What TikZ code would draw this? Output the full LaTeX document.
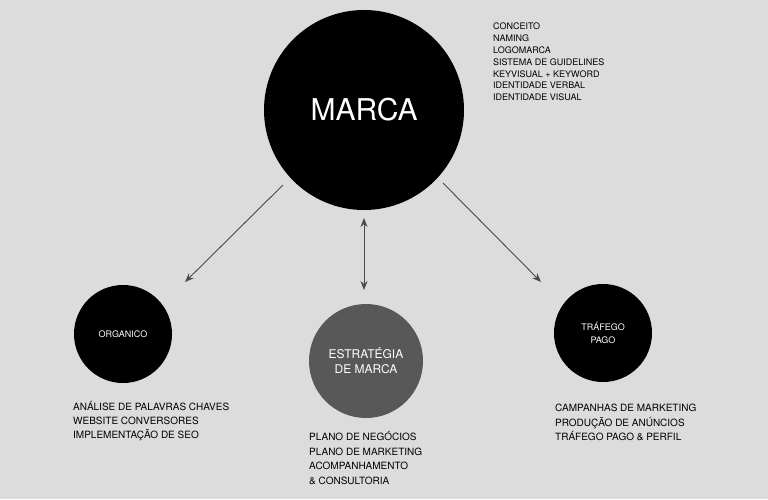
\documentclass[tikz,border=0pt]{standalone}
\usepackage{fontspec}
\setmainfont{TeX Gyre Heros}
\usetikzlibrary{arrows.meta}

\definecolor{bgray}{HTML}{DCDCDC}
\definecolor{midgray}{HTML}{585858}
\definecolor{arrgray}{HTML}{4A4A4A}

\begin{document}
\begin{tikzpicture}[
	x=1pt, y=-1pt,
	bubble/.style={circle, fill=black, text=white, align=center, inner sep=0pt},
	link/.style={draw=arrgray, line width=0.9pt, -{Stealth[length=9pt, width=7pt]}},
	items/.style={anchor=north west, align=left, inner sep=0pt,
		font=\fontsize{9.5}{14.5}\selectfont}
]
\fill[bgray] (0,0) rectangle (768,499);

\node[bubble, minimum size=200pt, font=\fontsize{30}{30}\selectfont] (marca) at (364,110) {MARCA};
\node[bubble, minimum size=98pt, font=\fontsize{9}{11}\selectfont] (organico) at (123,334) {ORGANICO};
\node[bubble, fill=midgray, minimum size=114pt, font=\fontsize{12}{15}\selectfont] (estrategia) at (366,361) {ESTRATÉGIA\\DE MARCA};
\node[bubble, minimum size=98pt, font=\fontsize{9}{13}\selectfont] (trafego) at (603,333) {TRÁFEGO\\PAGO};

\coordinate (m1) at (283,185);
\coordinate (m2) at (364,218);
\coordinate (m3) at (443,183);
\coordinate (o1) at (185,282);
\coordinate (e1) at (364,290);
\coordinate (t1) at (541,282);
\draw[link] (m1) -- (o1);
\draw[link, {Stealth[length=9pt, width=7pt]}-{Stealth[length=9pt, width=7pt]}] (m2) -- (e1);
\draw[link] (m3) -- (t1);

\node[items, font=\fontsize{9}{11.8}\selectfont] (marcalist) at (493,23) {CONCEITO\\NAMING\\LOGOMARCA\\SISTEMA DE GUIDELINES\\KEYVISUAL + KEYWORD\\IDENTIDADE VERBAL\\IDENTIDADE VISUAL};
\node[items, font=\fontsize{10}{14}\selectfont] (organicolist) at (73,401) {ANÁLISE DE PALAVRAS CHAVES\\WEBSITE CONVERSORES\\IMPLEMENTAÇÃO DE SEO};
\node[items, font=\fontsize{10}{14.7}\selectfont] (estrategialist) at (309,431) {PLANO DE NEGÓCIOS\\PLANO DE MARKETING\\ACOMPANHAMENTO\\\& CONSULTORIA};
\node[items, font=\fontsize{10}{14.5}\selectfont] (trafegolist) at (555,404) {CAMPANHAS DE MARKETING\\PRODUÇÃO DE ANÚNCIOS\\TRÁFEGO PAGO \& PERFIL};
\end{tikzpicture}
\end{document}
